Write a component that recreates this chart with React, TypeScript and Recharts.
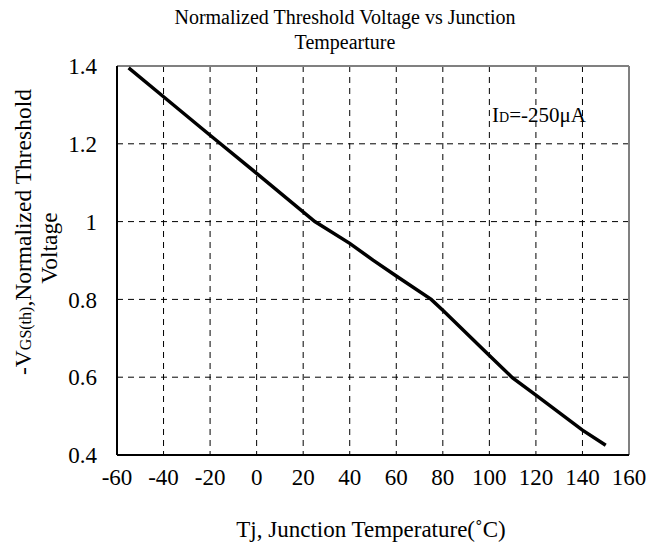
import { LineChart, Line, XAxis, YAxis, CartesianGrid, ReferenceLine } from 'recharts';

const temps = [-55, -40, -20, 0, 25, 40, 50, 60, 75, 80, 100, 110, 120, 140, 150];
const vth = [1.395, 1.321, 1.222, 1.124, 1.0, 0.944, 0.901, 0.86, 0.8, 0.772, 0.656, 0.598, 0.554, 0.464, 0.425];
const xTicks = [-60, -40, -20, 0, 20, 40, 60, 80, 100, 120, 140, 160];
const yTicks = [0.4, 0.6, 0.8, 1, 1.2, 1.4];

const data = temps.map((t, i) => ({ t, v: vth[i] }));

const FONT = "'Liberation Serif', 'Times New Roman', serif";
const txt = { fontFamily: FONT };

export default function App() {
  return (
    <div style={{ position: 'absolute', left: 0, top: 0, width: 660, height: 548, background: '#fff', fontFamily: FONT }}>
      <LineChart width={660} height={548} data={data} margin={{ top: 66, right: 31, bottom: 0, left: 0 }} style={txt}>
        <CartesianGrid stroke="#000" strokeDasharray="6 5" strokeWidth={1} />
        <XAxis
          type="number"
          dataKey="t"
          domain={[-60, 160]}
          ticks={xTicks}
          height={93}
          tickLine={false}
          tickSize={0}
          tickMargin={14}
          axisLine={{ stroke: '#000', strokeWidth: 2 }}
          tick={{ fill: '#000', fontSize: 23, style: txt }}
          interval={0}
        />
        <YAxis
          type="number"
          domain={[0.4, 1.4]}
          ticks={yTicks}
          width={117}
          tickLine={false}
          tickSize={0}
          tickMargin={20}
          axisLine={{ stroke: '#000', strokeWidth: 2 }}
          tick={{ fill: '#000', fontSize: 23, style: txt }}
          interval={0}
        />
        <ReferenceLine y={1.4} stroke="#808080" strokeWidth={2} />
        <ReferenceLine x={160} stroke="#808080" strokeWidth={2} />
        <Line type="linear" dataKey="v" stroke="#000" strokeWidth={3.5} dot={false} isAnimationActive={false} />
        <text x={345} y={24} textAnchor="middle" style={txt} fontSize={20} fill="#000">
          Normalized Threshold Voltage vs Junction
        </text>
        <text x={345} y={49} textAnchor="middle" style={txt} fontSize={20} fill="#000">
          Tempearture
        </text>
        <text x={371} y={537} textAnchor="middle" style={txt} fontSize={23} fill="#000">
          Tj, Junction Temperature(˚C)
        </text>
        <text x={31} y={232} transform="rotate(-90 31 232)" textAnchor="middle" style={txt} fontSize={23.5} fill="#000">
          -V<tspan fontSize={16}>GS(th)</tspan>,Normalized Threshold
        </text>
        <text x={57} y={248} transform="rotate(-90 57 248)" textAnchor="middle" style={txt} fontSize={23.5} fill="#000">
          Voltage
        </text>
        <text x={492} y={122} style={txt} fontSize={21} fill="#000">
          I<tspan fontSize={14}>D</tspan>=-250μA
        </text>
      </LineChart>
    </div>
  );
}
